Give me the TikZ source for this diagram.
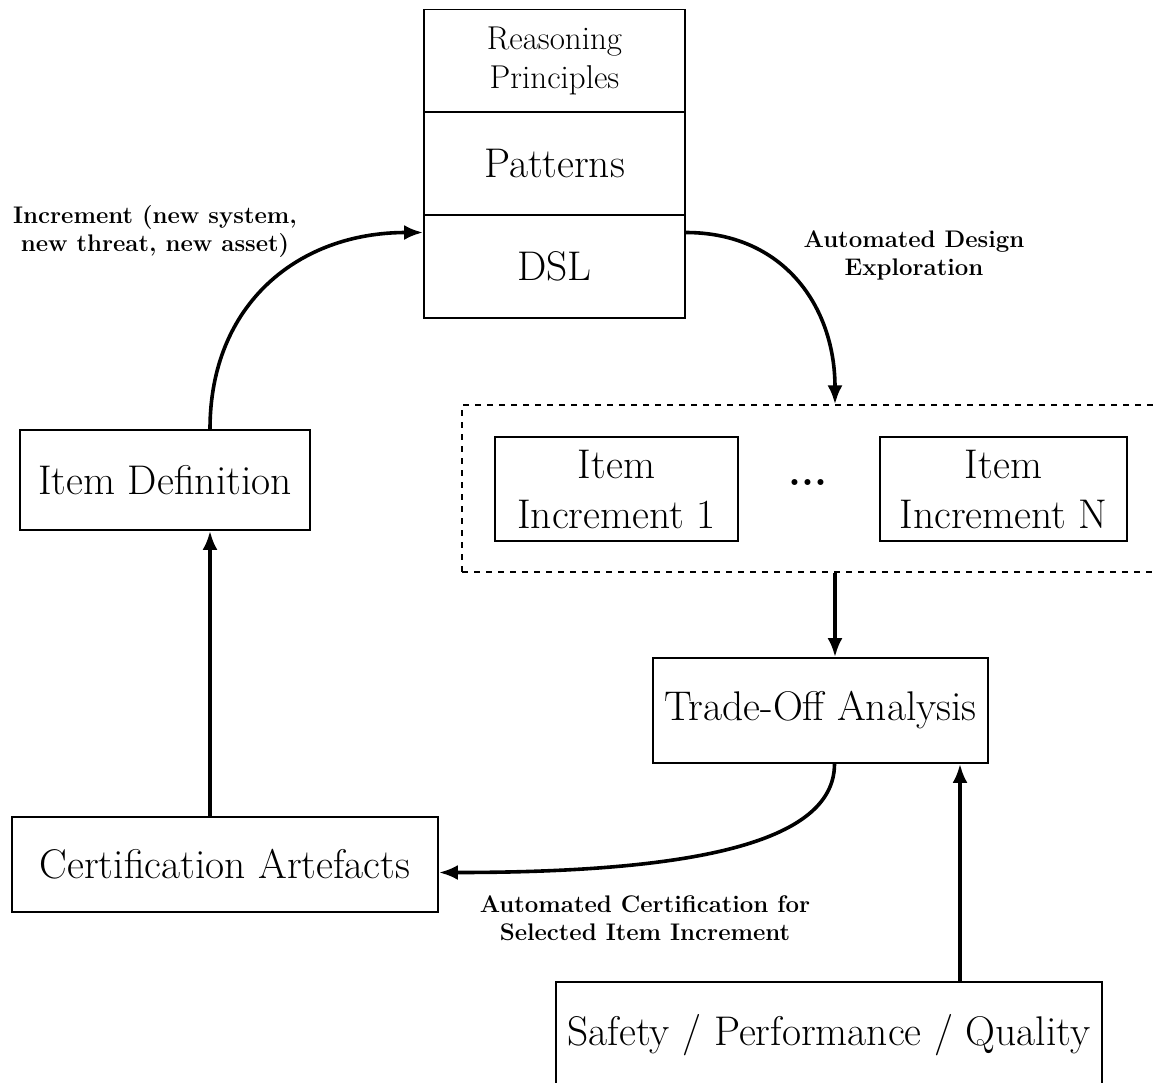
\documentclass[tikz,border=0pt]{standalone}
\usepackage{amsmath}
\usepackage{tikz}
\usetikzlibrary{arrows.meta}

\tikzset{
  box/.style={draw, line width=0.9pt, inner sep=0pt, align=center, font=\huge},
  stackbox/.style={box, minimum width=130.5pt, minimum height=51.5pt},
  arr/.style={-{Latex[length=9.5pt,width=7.5pt]}, line width=1.8pt},
  lbl/.style={align=center, font=\large\bfseries}
}

\begin{document}
\begin{tikzpicture}[x=0.5pt,y=-0.5pt]
  \useasboundingbox (0,0) rectangle (1153,1083);

  % knowledge stack
  \node[stackbox, font=\fontsize{16.5}{19.5}\selectfont] (rp) at (554.5,61) {Reasoning\\Principles};
  \node[stackbox] (pat) at (554.5,163.5) {Patterns};
  \node[stackbox] (dsl) at (554.5,266.5) {DSL};

  \node[box, minimum width=145pt, minimum height=50pt] (itemdef) at (165,480) {Item Definition};

  % increments
  \node[draw, dashed, line width=0.6pt, minimum width=350pt, minimum height=83.5pt] (incs) at (812,488.5) {};
  \node[box, minimum width=121.5pt, minimum height=52pt] (inc1) at (616.5,489) {Item\\Increment 1};
  \node[font=\huge\bfseries] (dots) at (808,483) {...};
  \node[box, minimum width=123.5pt, minimum height=52pt] (incn) at (1003.5,489) {Item\\Increment N};

  \node[box, minimum width=167.5pt, minimum height=52.5pt] (trade) at (820.5,710.5) {Trade-Off Analysis};
  \node[box, minimum width=213pt, minimum height=47.5pt] (cert) at (225,864.5) {Certification Artefacts};
  \node[box, minimum width=273pt, minimum height=53pt] (safety) at (829,1035) {Safety / Performance / Quality};

  % connectors
  \draw[arr] ([xshift=22.5pt]itemdef.north) to[out=90,in=180,looseness=1.1] ([yshift=17pt]dsl.west);
  \draw[arr] ([yshift=17pt]dsl.east) to[out=0,in=90,looseness=1.1] ([xshift=11.5pt]incs.north);

  \coordinate (dq) at ([xshift=11.5pt]incs.south);
  \draw[arr] (dq) -- (dq |- trade.north);

  \draw[arr] ([xshift=7pt]trade.south) .. controls +(0,80) and +(250,0) .. ([yshift=-4pt]cert.east);

  \coordinate (cq) at ([xshift=-7.5pt]cert.north);
  \draw[arr] (cq) -- (cq |- itemdef.south);

  \coordinate (sq) at ([xshift=65.5pt]safety.north);
  \draw[arr] (sq) -- (sq |- trade.south);

  % labels
  \node[lbl] (lblinc) at (155,232) {Increment (new system,\\new threat, new asset)};
  \node[lbl] (lblade) at (914,255) {Automated Design\\Exploration};
  \node[lbl] (lblacs) at (645,918) {Automated Certification for\\Selected Item Increment};
\end{tikzpicture}
\end{document}
